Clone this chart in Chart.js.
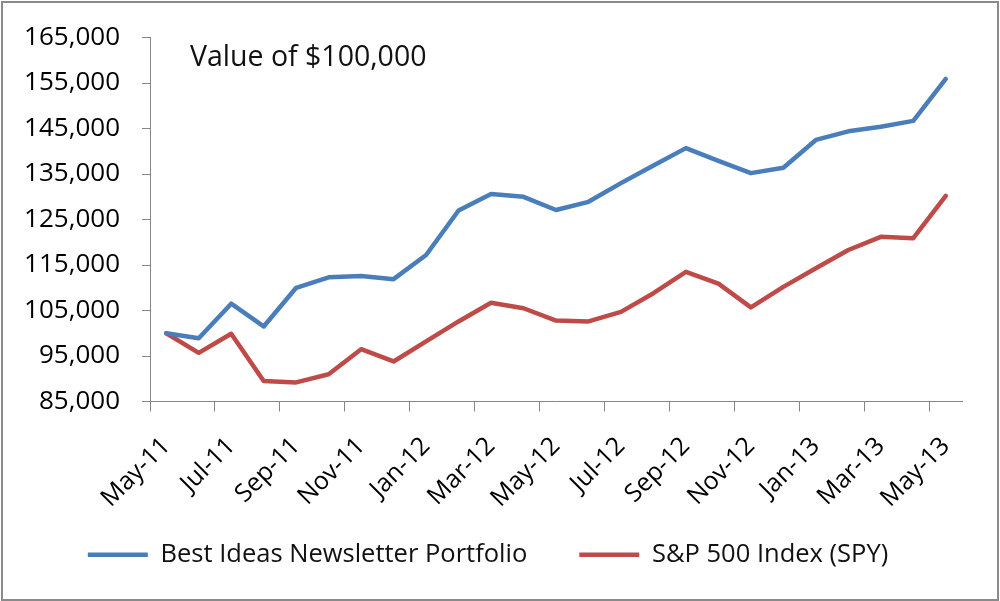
<!DOCTYPE html>
<html>
<head>
<meta charset="utf-8">
<script src="https://cdn.jsdelivr.net/npm/chart.js@4.4.1/dist/chart.umd.min.js"></script>
<style>
  html, body { margin: 0; padding: 0; background: #fff; }
  #wrap { position: relative; width: 1000px; height: 601px; }
  #frame { position: absolute; left: 1px; top: 1px; width: 994px; height: 596px; border: 2px solid #8a8a8a; pointer-events: none; }
</style>
</head>
<body>
<div id="wrap">
  <canvas id="chart"></canvas>
  <div id="frame"></div>
</div>
<script>
// Datos (valor de 100.000 invertidos)
const months = ['May-11', 'Jun-11', 'Jul-11', 'Aug-11', 'Sep-11', 'Oct-11', 'Nov-11', 'Dec-11',
  'Jan-12', 'Feb-12', 'Mar-12', 'Apr-12', 'May-12', 'Jun-12', 'Jul-12', 'Aug-12', 'Sep-12',
  'Oct-12', 'Nov-12', 'Dec-12', 'Jan-13', 'Feb-13', 'Mar-13', 'Apr-13', 'May-13'];

const bestIdeas = [100000, 98900, 106500, 101500, 110000, 112300, 112600, 111900, 117200,
  127000, 130600, 130000, 127100, 128900, 133000, 136900, 140700, 137900, 135200, 136400,
  142500, 144400, 145400, 146700, 155900];

const spy = [100000, 95700, 99900, 89500, 89200, 91000, 96500, 93800, 98200, 102600, 106700,
  105500, 102800, 102600, 104700, 108800, 113500, 110900, 105700, 110200, 114300, 118300,
  121200, 120900, 130200];

const seriesNames = ['Best Ideas Newsletter Portfolio', 'S&P 500 Index (SPY)'];
const titleText = 'Value of $100,000';

Chart.defaults.font.family = '"Open Sans", sans-serif';
Chart.defaults.color = '#000';

const axisColor = '#868686';
const legendTop = 490; // la leyenda se sube un poco, como en el original

// titulo dentro del area del grafico
const insideTitle = {
  id: 'insideTitle',
  afterDraw(chart) {
    const { ctx, chartArea } = chart;
    ctx.save();
    ctx.font = '28.5px "Open Sans"';
    ctx.fillStyle = '#111';
    ctx.textBaseline = 'alphabetic';
    ctx.fillText(titleText, chartArea.left + 40, chartArea.top + 28);
    ctx.restore();
  }
};

// mueve la caja de la leyenda despues del layout
const legendShift = {
  id: 'legendShift',
  afterLayout(chart) {
    const lg = chart.legend;
    const h = lg.height;
    lg.top = legendTop;
    lg.bottom = legendTop + h;
  }
};

new Chart(document.getElementById('chart'), {
  type: 'line',
  data: {
    labels: months,
    datasets: [
      {
        label: seriesNames[0],
        data: bestIdeas,
        borderColor: '#4A7EBB',
        backgroundColor: '#4A7EBB',
        borderWidth: 4.5,
        pointRadius: 0,
        borderJoinStyle: 'round',
        borderCapStyle: 'round',
      },
      {
        label: seriesNames[1],
        data: spy,
        borderColor: '#BE4B48',
        backgroundColor: '#BE4B48',
        borderWidth: 4.5,
        pointRadius: 0,
        borderJoinStyle: 'round',
        borderCapStyle: 'round',
      },
    ],
  },
  options: {
    responsive: true,
    maintainAspectRatio: false,
    animation: false,
    layout: { padding: { top: 33, right: 38, bottom: 0, left: 14 } },
    scales: {
      x: {
        type: 'category',
        offset: true,
        afterFit: (scale) => { scale.height = 112; },
        border: { color: axisColor, width: 1 },
        grid: {
          offset: true,
          drawOnChartArea: false,
          tickLength: 10,
          color: (ctx) => (ctx.index % 2 === 0 ? axisColor : 'rgba(0,0,0,0)'),
        },
        ticks: {
          autoSkip: false,
          minRotation: 45,
          maxRotation: 45,
          padding: 20,
          font: { size: 25 },
          callback: (val, i) => (i % 2 === 0 ? months[i] : ''),
        },
      },
      y: {
        min: 85000,
        max: 165000,
        afterFit: (scale) => { scale.width = 136; },
        border: { color: axisColor, width: 1 },
        grid: { drawOnChartArea: false, tickLength: 8, color: axisColor },
        ticks: {
          stepSize: 10000,
          padding: 22,
          font: { size: 26 },
          callback: (v) => v.toLocaleString('en-US'),
        },
      },
    },
    plugins: {
      tooltip: { enabled: false },
      legend: {
        position: 'bottom',
        labels: {
          usePointStyle: true,
          pointStyle: 'line',
          pointStyleWidth: 60,
          padding: 52,
          font: { size: 25.5 },
          color: '#111',
        },
      },
    },
  },
  plugins: [insideTitle, legendShift],
});
</script>
</body>
</html>
